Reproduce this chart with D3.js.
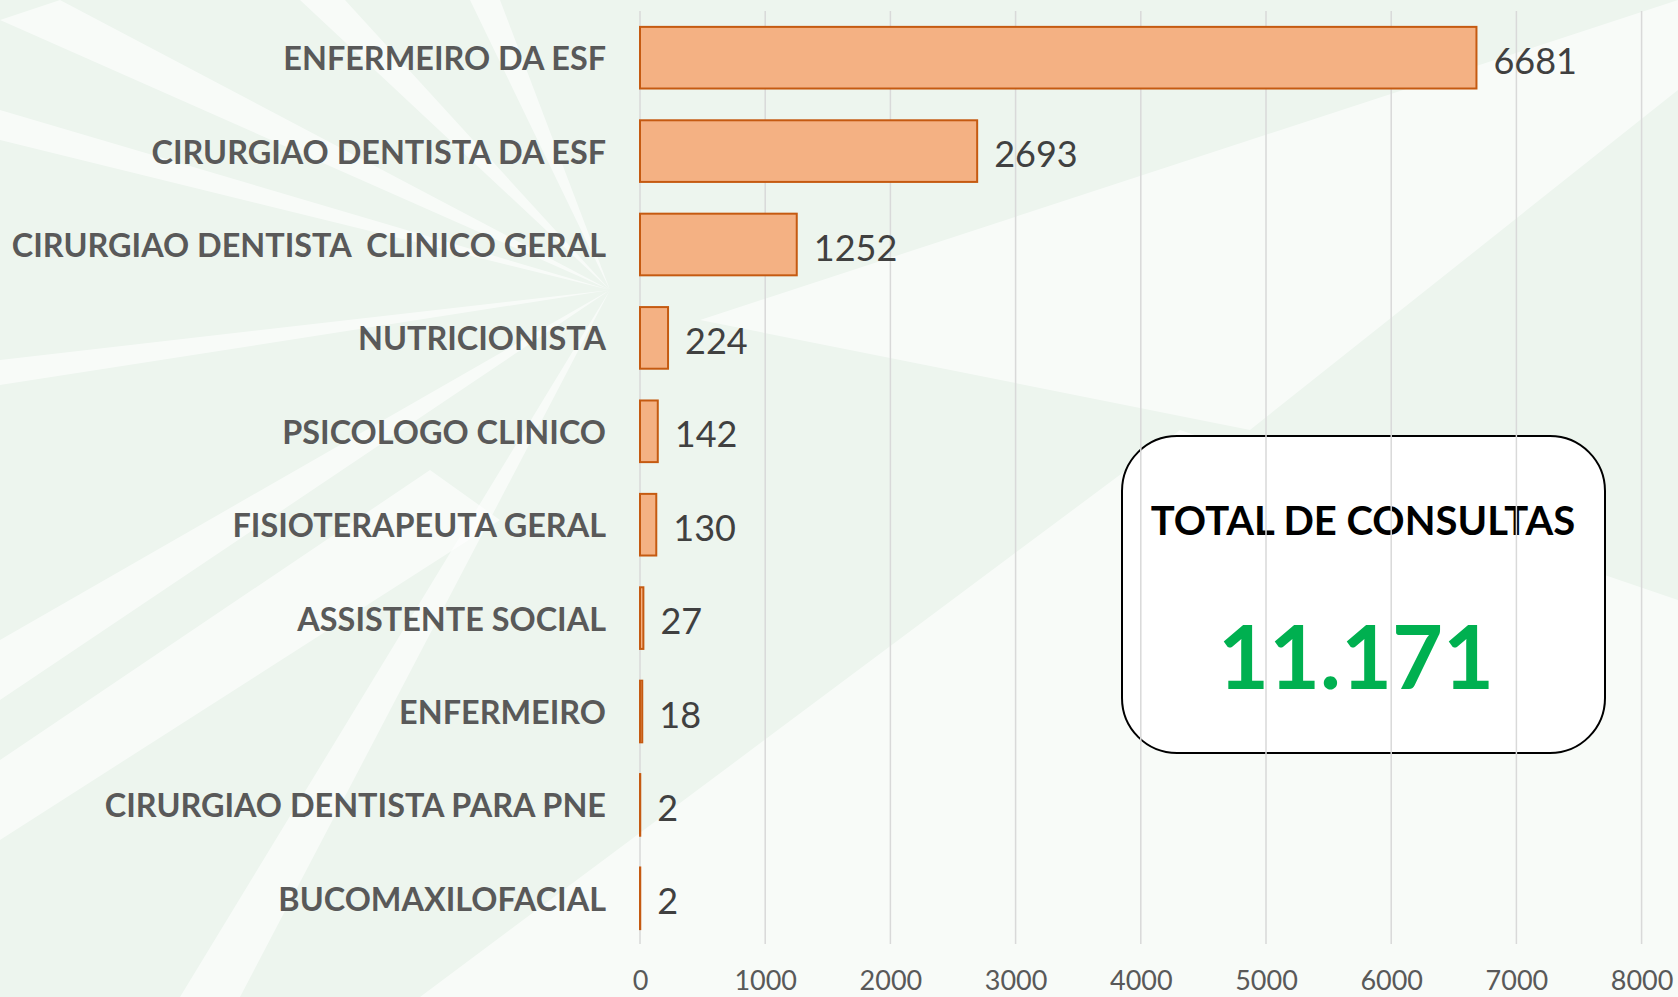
<!DOCTYPE html>
<html>
<head>
<meta charset="utf-8">
<script src="https://cdn.jsdelivr.net/npm/d3@7"></script>
<style>
  body { margin: 0; background: #fff; }
  svg { display: block; }
</style>
</head>
<body>
<div id="chart"></div>
<script>
// datos
const categorias = [
  "ENFERMEIRO DA ESF",
  "CIRURGIAO DENTISTA DA ESF",
  "CIRURGIAO DENTISTA  CLINICO GERAL",
  "NUTRICIONISTA",
  "PSICOLOGO CLINICO",
  "FISIOTERAPEUTA GERAL",
  "ASSISTENTE SOCIAL",
  "ENFERMEIRO",
  "CIRURGIAO DENTISTA PARA PNE",
  "BUCOMAXILOFACIAL"
];
const consultas = [6681, 2693, 1252, 224, 142, 130, 27, 18, 2, 2];
const ticksX = [0, 1000, 2000, 3000, 4000, 5000, 6000, 7000, 8000];
const tituloTotal = "TOTAL DE CONSULTAS";
const valorTotal = "11.171";

const W = 1678, H = 997;

const svg = d3.select("#chart")
  .append("svg")
  .attr("width", W)
  .attr("height", H);

// fondo verde claro con rayos blancos (decorativo)
svg.append("rect").attr("width", W).attr("height", H).attr("fill", "#edf5ee");

const rayos = [
  [[610, 290], [0, 20], [60, 0]],
  [[610, 290], [0, 110], [0, 140]],
  [[610, 290], [0, 360], [0, 385]],
  [[610, 290], [300, 0], [345, 0]],
  [[610, 290], [470, 0], [500, 0]],
  [[610, 290], [0, 640], [0, 700]],
  [[610, 290], [180, 997], [240, 997]],
  [[700, 320], [1678, 0], [1678, 90], [1250, 430]],
  [[420, 997], [1180, 430], [1678, 600], [1678, 997]],
  [[0, 760], [430, 470], [500, 520], [0, 840]]
];
svg.selectAll(".rayo")
  .data(rayos)
  .enter().append("polygon")
  .attr("class", "rayo")
  .attr("points", d => d.map(p => p.join(",")).join(" "))
  .attr("fill", "#ffffff")
  .attr("opacity", 0.6);

// escalas
const x = d3.scaleLinear().domain([0, 8000]).range([640, 1641.6]);
const y = d3.scaleBand().domain(categorias).range([11, 945])
  .paddingInner(0.34).paddingOuter(0.17);

// cuadro del total (queda debajo de las lineas de la grilla)
svg.append("rect")
  .attr("x", 1122).attr("y", 436)
  .attr("width", 483).attr("height", 317)
  .attr("rx", 55).attr("ry", 55)
  .attr("fill", "#ffffff")
  .attr("stroke", "#000")
  .attr("stroke-width", 2);

svg.append("text")
  .attr("x", 1363).attr("y", 520)
  .attr("text-anchor", "middle")
  .attr("dominant-baseline", "central")
  .style("font-family", "Lato, 'Open Sans', sans-serif")
  .style("font-weight", "bold")
  .style("font-size", "40px")
  .attr("fill", "#000")
  .text(tituloTotal);

svg.append("text")
  .attr("x", 1356).attr("y", 655)
  .attr("text-anchor", "middle")
  .attr("dominant-baseline", "central")
  .style("font-family", "Lato, 'Open Sans', sans-serif")
  .style("font-weight", "bold")
  .style("font-size", "88px")
  .attr("fill", "#00b050")
  .text(valorTotal);

// grilla vertical
svg.selectAll(".grid")
  .data(ticksX)
  .enter().append("line")
  .attr("class", "grid")
  .attr("x1", d => x(d)).attr("x2", d => x(d))
  .attr("y1", 11).attr("y2", 944)
  .attr("stroke", "#d9d9d9")
  .attr("stroke-width", 1.5);

// eje x (solo etiquetas)
const xAxis = d3.axisBottom(x).tickValues(ticksX).tickFormat(d3.format("d"))
  .tickSize(0).tickPadding(0);
const gx = svg.append("g")
  .attr("transform", "translate(0,970)")
  .call(xAxis);
gx.select(".domain").remove();
gx.selectAll(".tick text")
  .attr("dy", 0)
  .attr("y", 20)
  .style("font-family", "Lato, 'Open Sans', sans-serif")
  .style("font-size", "27px")
  .attr("fill", "#595959");

// barras
svg.selectAll(".bar")
  .data(consultas)
  .enter().append("rect")
  .attr("class", "bar")
  .attr("x", x(0))
  .attr("y", (d, i) => y(categorias[i]))
  .attr("width", d => x(d) - x(0))
  .attr("height", y.bandwidth())
  .attr("fill", "#f4b183")
  .attr("stroke", "#c55a11")
  .attr("stroke-width", 2);

// etiquetas de categoria
svg.selectAll(".cat")
  .data(categorias)
  .enter().append("text")
  .attr("class", "cat")
  .attr("x", 606)
  .attr("y", d => y(d) + y.bandwidth() / 2)
  .attr("text-anchor", "end")
  .attr("dominant-baseline", "central")
  .style("font-family", "Lato, 'Open Sans', sans-serif")
  .style("font-weight", "bold")
  .style("font-size", "32.4px")
  .style("white-space", "pre")
  .attr("fill", "#595959")
  .text(d => d);

// etiquetas de valor
svg.selectAll(".val")
  .data(consultas)
  .enter().append("text")
  .attr("class", "val")
  .attr("x", d => x(d) + 17)
  .attr("y", (d, i) => y(categorias[i]) + y.bandwidth() / 2 + 2)
  .attr("dominant-baseline", "central")
  .style("font-family", "Lato, 'Open Sans', sans-serif")
  .style("font-size", "36px")
  .attr("fill", "#404040")
  .text(d => d);
</script>
</body>
</html>
